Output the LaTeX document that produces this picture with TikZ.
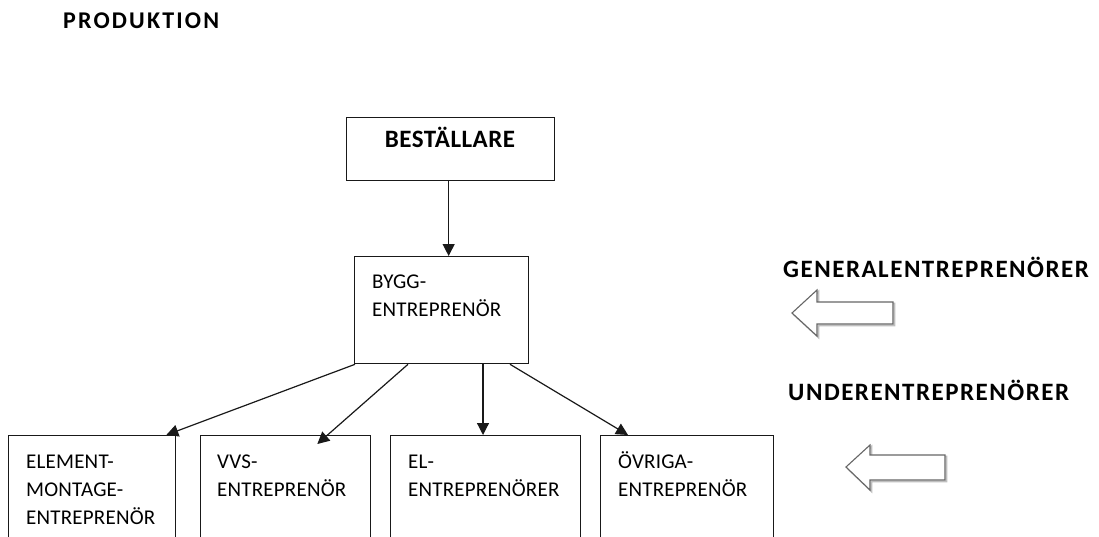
\documentclass[tikz,border=0pt]{standalone}
\usepackage{fontspec}
\setmainfont{Carlito}
\usetikzlibrary{arrows.meta,calc}

\begin{document}
\begin{tikzpicture}[x=1pt,y=-1pt,
  box/.style={draw=black!90,line width=1.3pt,rectangle,anchor=north west,inner sep=0pt},
  boxtext/.style={anchor=base west,inner sep=0pt,align=left,
    font=\fontsize{21pt}{28pt}\selectfont\addfontfeature{LetterSpace=1}},
  heading/.style={anchor=base west,inner sep=0pt,
    font=\fontsize{25pt}{28pt}\selectfont\bfseries\addfontfeature{LetterSpace=6}},
  conn/.style={line width=1.2pt,draw=black!90,-{Triangle[length=12pt,width=12pt]}},
  blockarrow/.style={draw=black!60,line width=1.1pt,fill=white,line join=miter},
  blockshadow/.style={draw=black!25,line width=1.6pt,line join=miter},
]
\useasboundingbox (0,0) rectangle (1099,537);

% title
\node[heading,font=\fontsize{24pt}{28pt}\selectfont\bfseries\addfontfeature{LetterSpace=9}]
  (title) at (63,29) {PRODUKTION};

% boxes
\node[box,minimum width=208pt,minimum height=63pt]  (best) at (346,117) {};
\node[box,minimum width=174pt,minimum height=107pt] (bygg) at (354,256) {};
\node[box,minimum width=167pt,minimum height=110pt] (b1) at (8,435) {};
\node[box,minimum width=170pt,minimum height=110pt] (b2) at (200,435) {};
\node[box,minimum width=190pt,minimum height=110pt] (b3) at (390,435) {};
\node[box,minimum width=173pt,minimum height=110pt] (b4) at (600,435) {};

% box texts (anchored at the baseline of the last line)
\node[anchor=base,inner sep=0pt,font=\fontsize{25pt}{28pt}\selectfont\bfseries\addfontfeature{LetterSpace=2}]
  (tbest) at (450,148) {BESTÄLLARE};
\node[boxtext] (tbygg) at (372,316) {BYGG-\\ENTREPRENÖR};
\node[boxtext] (t1) at (26,524) {ELEMENT-\\MONTAGE-\\ENTREPRENÖR};
\node[boxtext] (t2) at (217,496) {VVS-\\ENTREPRENÖR};
\node[boxtext] (t3) at (408,496) {EL-\\ENTREPRENÖRER};
\node[boxtext] (t4) at (618,496) {ÖVRIGA-\\ENTREPRENÖR};

% side headings
\node[heading] (gen) at (783,277) {GENERALENTREPRENÖRER};
\node[heading] (under) at (788,400) {UNDERENTREPRENÖRER};

% connectors
\draw[conn] ([xshift=-2pt]best.south) -- ([xshift=-2pt]best.south |- bygg.north);
\draw[conn] ([xshift=1pt]bygg.south west) -- ([xshift=-10pt]b1.north east);
\draw[conn] ([xshift=54pt]bygg.south west) -- ([xshift=-54pt,yshift=-9pt]b2.north east);
\draw[conn] ([xshift=129pt]bygg.south west) -- ([xshift=129pt]bygg.south west |- b3.north);
\draw[conn] ([xshift=156pt]bygg.south west) -- ([xshift=28pt]b4.north west);

% block arrows pointing left
\draw[blockshadow,shift={(1.5,1.5)}] (792,313) -- (817,290) -- (817,302) -- (893,302)
  -- (893,324) -- (817,324) -- (817,336) -- cycle;
\draw[blockarrow] (792,313) -- (817,290) -- (817,302) -- (893,302)
  -- (893,324) -- (817,324) -- (817,336) -- cycle;
\draw[blockshadow,shift={(1.5,1.5)}] (846,467) -- (870,445) -- (870,455) -- (945,455)
  -- (945,480) -- (870,480) -- (870,490) -- cycle;
\draw[blockarrow] (846,467) -- (870,445) -- (870,455) -- (945,455)
  -- (945,480) -- (870,480) -- (870,490) -- cycle;
\end{tikzpicture}
\end{document}
